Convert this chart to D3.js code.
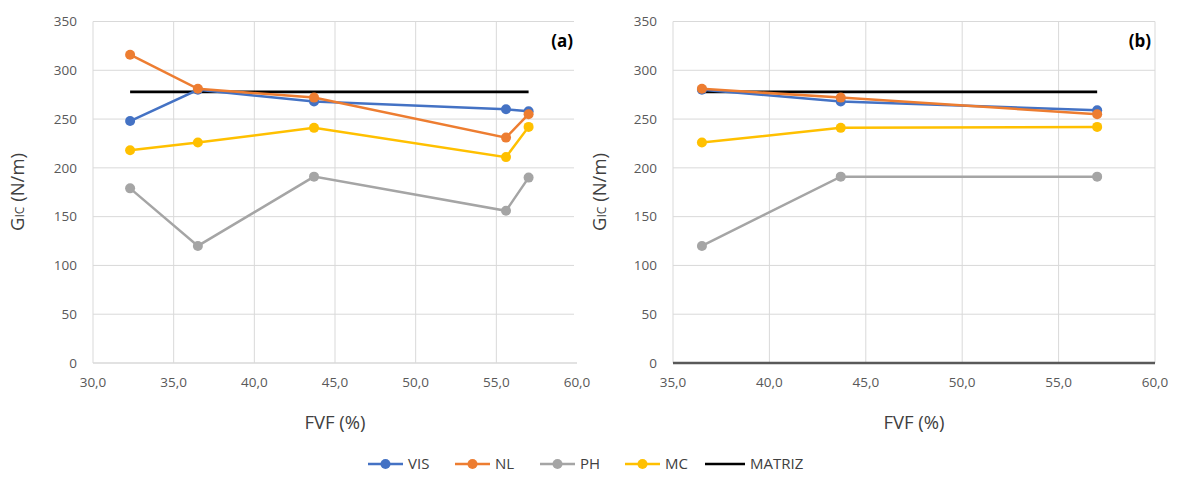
<!DOCTYPE html>
<html>
<head>
<meta charset="utf-8">
<script src="https://cdn.jsdelivr.net/npm/d3@7"></script>
<style>
  body { margin: 0; background: #fff; }
  text { font-family: "Open Sans", "Noto Sans", sans-serif; }
</style>
</head>
<body>
<div id="chart"></div>
<script>
// panel (a)
var fvfA    = [32.3, 36.5, 43.7, 55.6, 57.0];
var visA    = [248, 280, 268, 260, 258];
var nlA     = [316, 281, 272, 231, 255];
var phA     = [179, 120, 191, 156, 190];
var mcA     = [218, 226, 241, 211, 242];
var matrizA = [278, 278];
var matrizAx = [32.3, 57.0];

// panel (b)
var fvfB    = [36.5, 43.7, 57.0];
var visB    = [280, 268, 259];
var nlB     = [281, 272, 255];
var phB     = [120, 191, 191];
var mcB     = [226, 241, 242];
var matrizB = [278, 278];
var matrizBx = [36.5, 57.0];

var seriesNames = ["VIS", "NL", "PH", "MC", "MATRIZ"];
var colors = {VIS: "#4472C4", NL: "#ED7D31", PH: "#A5A5A5", MC: "#FFC000", MATRIZ: "#000000"};
var yTicks = [0, 50, 100, 150, 200, 250, 300, 350];
var xTicksA = [30, 35, 40, 45, 50, 55, 60];
var xTicksB = [35, 40, 45, 50, 55, 60];

var svg = d3.select("#chart").append("svg")
    .attr("width", 1183).attr("height", 486);

var fmt = function (d) { return d.toFixed(1).replace(".", ","); };

function drawPanel(opt) {
  var x = d3.scaleLinear().domain(opt.xDomain).range([opt.left, opt.right]);
  var y = d3.scaleLinear().domain([0, 350]).range([363, 21.5]);
  var g = svg.append("g");

  // horizontal grid
  g.selectAll(".hg").data(yTicks.filter(function (d) { return d > 0; })).enter()
    .append("line")
    .attr("x1", opt.left).attr("x2", opt.gridRight)
    .attr("y1", function (d) { return y(d); }).attr("y2", function (d) { return y(d); })
    .attr("stroke", "#d9d9d9").attr("stroke-width", 1);

  // vertical grid
  g.selectAll(".vg").data(opt.vGrid).enter()
    .append("line")
    .attr("x1", function (d) { return x(d); }).attr("x2", function (d) { return x(d); })
    .attr("y1", y(350)).attr("y2", y(0))
    .attr("stroke", "#d9d9d9").attr("stroke-width", 1);

  // baseline
  g.append("line")
    .attr("x1", opt.left).attr("x2", opt.right)
    .attr("y1", y(0)).attr("y2", y(0))
    .attr("stroke", opt.baseColor).attr("stroke-width", opt.baseWidth);

  // y tick labels
  g.selectAll(".yl").data(yTicks).enter()
    .append("text")
    .attr("x", opt.left - 16).attr("y", function (d) { return y(d); })
    .attr("dy", "0.35em").attr("text-anchor", "end")
    .attr("font-size", 13.5).attr("fill", "#595959")
    .text(function (d) { return d; });

  // x tick labels
  g.selectAll(".xl").data(opt.xTicks).enter()
    .append("text")
    .attr("x", function (d) { return x(d); }).attr("y", 387)
    .attr("text-anchor", "middle")
    .attr("font-size", 13.5).attr("fill", "#595959")
    .text(fmt);

  // axis titles
  var yt = g.append("text")
    .attr("transform", "translate(" + opt.yTitleX + "," + 192 + ") rotate(-90)")
    .attr("text-anchor", "middle")
    .attr("font-size", 18.5).attr("fill", "#404040");
  yt.append("tspan").text("G");
  yt.append("tspan").attr("font-size", 12).text("IC");
  yt.append("tspan").text(" (N/m)");

  g.append("text")
    .attr("x", (opt.left + opt.right) / 2).attr("y", 429)
    .attr("text-anchor", "middle")
    .attr("font-size", 18.5).attr("fill", "#404040")
    .text("FVF (%)");

  g.append("text")
    .attr("x", opt.tagX).attr("y", 47)
    .attr("text-anchor", "end")
    .attr("font-size", 17).attr("font-weight", "bold").attr("fill", "#000")
    .text(opt.tag);

  var line = d3.line()
    .x(function (d) { return x(d[0]); })
    .y(function (d) { return y(d[1]); });

  // matriz first so others draw over it like in the source
  g.append("path")
    .datum(d3.zip(opt.matrizX, opt.series.MATRIZ))
    .attr("d", line).attr("fill", "none")
    .attr("stroke", colors.MATRIZ).attr("stroke-width", 2.75);

  ["PH", "MC", "VIS", "NL"].forEach(function (name) {
    var pts = d3.zip(opt.fvf, opt.series[name]);
    g.append("path").datum(pts)
      .attr("d", line).attr("fill", "none")
      .attr("stroke", colors[name]).attr("stroke-width", 2.5);
    g.selectAll(".m" + name).data(pts).enter()
      .append("circle")
      .attr("cx", function (d) { return x(d[0]); })
      .attr("cy", function (d) { return y(d[1]); })
      .attr("r", 5)
      .attr("fill", colors[name]);
  });
}

drawPanel({
  xDomain: [30, 60], left: 93, right: 577, gridRight: 574,
  vGrid: [30, 35, 40, 45, 50, 55], xTicks: xTicksA,
  baseColor: "#d9d9d9", baseWidth: 1.5,
  yTitleX: 24, tagX: 573, tag: "(a)",
  fvf: fvfA, matrizX: matrizAx,
  series: {VIS: visA, NL: nlA, PH: phA, MC: mcA, MATRIZ: matrizA}
});

drawPanel({
  xDomain: [35, 60], left: 673, right: 1155, gridRight: 1155,
  vGrid: [35, 40, 45, 50, 55, 60], xTicks: xTicksB,
  baseColor: "#595959", baseWidth: 2.5,
  yTitleX: 606, tagX: 1151, tag: "(b)",
  fvf: fvfB, matrizX: matrizBx,
  series: {VIS: visB, NL: nlB, PH: phB, MC: mcB, MATRIZ: matrizB}
});

// legend
var legX = [368, 455, 540, 625, 705];
var leg = svg.append("g");
seriesNames.forEach(function (name, i) {
  var x0 = legX[i], len = name === "MATRIZ" ? 40 : 35;
  leg.append("line")
    .attr("x1", x0).attr("x2", x0 + len)
    .attr("y1", 464).attr("y2", 464)
    .attr("stroke", colors[name]).attr("stroke-width", 2.5);
  if (name !== "MATRIZ") {
    leg.append("circle")
      .attr("cx", x0 + len / 2).attr("cy", 464).attr("r", 5)
      .attr("fill", colors[name]);
  }
  leg.append("text")
    .attr("x", x0 + len + 5).attr("y", 464).attr("dy", "0.35em")
    .attr("font-size", 15).attr("fill", "#404040")
    .text(name);
});
</script>
</body>
</html>
